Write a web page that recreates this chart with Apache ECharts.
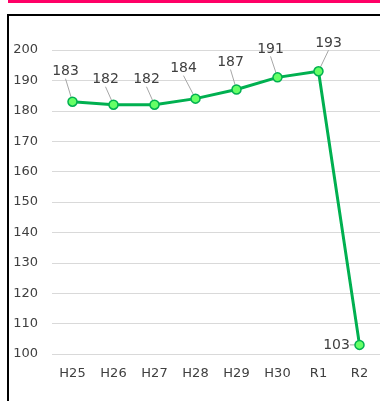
<!DOCTYPE html>
<html>
<head>
<meta charset="utf-8">
<script src="https://cdn.jsdelivr.net/npm/echarts@6/dist/echarts.min.js"></script>
<style>
  html, body { margin: 0; padding: 0; background: #fff; }
  #chart { width: 380px; height: 401px; }
</style>
</head>
<body>
<div id="chart"></div>
<script>
// Fiscal years (Heisei / Reiwa)
const categories = ['H25', 'H26', 'H27', 'H28', 'H29', 'H30', 'R1', 'R2'];
const values = [183, 182, 182, 184, 187, 191, 193, 103];
const yTicks = { min: 100, max: 200, step: 10 };

// Label offsets from each point (px), with leader lines
const labelDx = [-7, -8, -8, -12, -6, -7, 10, -23];
const labelDy = [-30, -25, -25, -30, -27, -28, -28, 0];

const chart = echarts.init(document.getElementById('chart'), null, { renderer: 'canvas' });

chart.setOption({
  animation: false,
  textStyle: { fontFamily: 'DejaVu Sans, Verdana, sans-serif' },
  graphic: [
    { type: 'rect', shape: { x: 8, y: 0, width: 372, height: 3 }, style: { fill: '#ff0066' } },
    { type: 'rect', shape: { x: 8, y: 15, width: 380, height: 400 },
      style: { fill: 'none', stroke: '#000', lineWidth: 2 } }
  ],
  grid: { left: 52, right: 0, top: 50, bottom: 47 },
  xAxis: {
    type: 'category',
    data: categories,
    boundaryGap: true,
    axisLine: { show: false },
    axisTick: { show: false },
    axisLabel: { color: '#404040', fontSize: 13, margin: 13 }
  },
  yAxis: {
    type: 'value',
    min: yTicks.min,
    max: yTicks.max,
    interval: yTicks.step,
    axisLine: { show: false },
    axisTick: { show: false },
    axisLabel: { color: '#404040', fontSize: 13, margin: 14 },
    splitLine: { lineStyle: { color: '#d9d9d9', width: 1 } }
  },
  series: [{
    type: 'line',
    data: values,
    symbol: 'circle',
    symbolSize: 9,
    lineStyle: { color: '#00b050', width: 3 },
    itemStyle: { color: '#66ff66', borderColor: '#00b050', borderWidth: 1.5 },
    label: {
      show: true,
      position: 'inside',
      color: '#404040',
      fontSize: 14
    },
    labelLine: { show: true, lineStyle: { color: '#a6a6a6', width: 1 } },
    labelLayout: function (p) {
      return { dx: labelDx[p.dataIndex], dy: labelDy[p.dataIndex] };
    }
  }]
});
</script>
</body>
</html>
